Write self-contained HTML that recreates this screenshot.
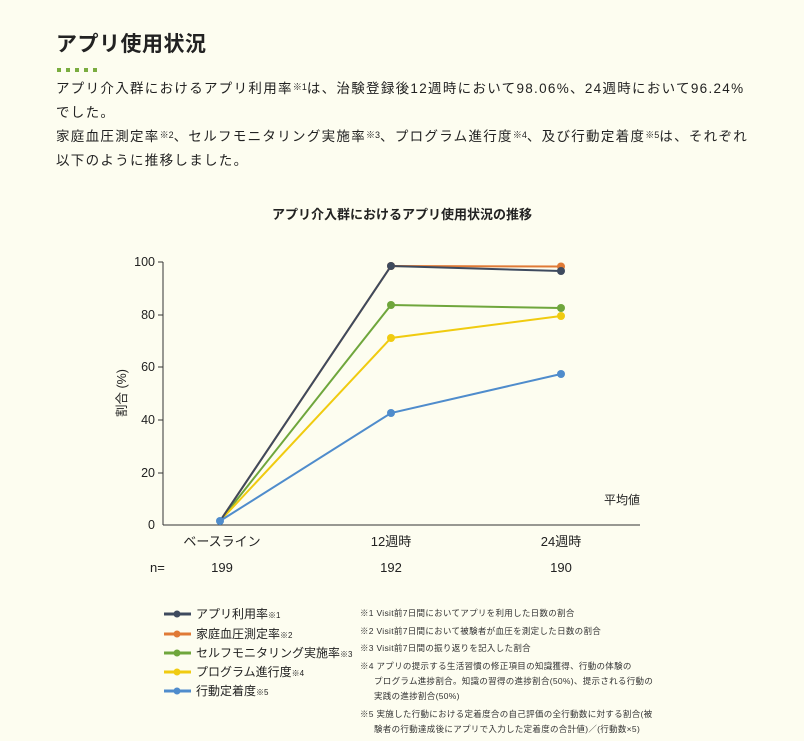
<!DOCTYPE html>
<html><head><meta charset="utf-8"><style>
body{margin:0;background:#fdfdf0;width:804px;height:741px;overflow:hidden;font-family:"Liberation Sans","Noto Sans CJK JP",sans-serif;color:#222}
.t{position:absolute;left:56px;top:28px;font-size:21px;font-weight:bold;letter-spacing:0.5px}
.dots{position:absolute;left:57px;top:59px}
.dots span{display:inline-block;width:4px;height:4px;background:#7aad3f;margin-right:5px}
.p{position:absolute;left:56px;top:76px;font-size:13.5px;line-height:23.5px;width:740px;letter-spacing:1.3px}
sup{font-size:9px;vertical-align:3px;letter-spacing:0}
</style></head><body>
<div class="t">アプリ使用状況</div>
<div class="dots"><span></span><span></span><span></span><span></span><span></span></div>
<div class="p">アプリ介入群におけるアプリ利用率<sup>※1</sup>は、治験登録後12週時において98.06%、24週時において96.24%<br>でした。<br>家庭血圧測定率<sup>※2</sup>、セルフモニタリング実施率<sup>※3</sup>、プログラム進行度<sup>※4</sup>、及び行動定着度<sup>※5</sup>は、それぞれ<br>以下のように推移しました。</div>
<svg width="804" height="741" style="position:absolute;left:0;top:0" font-family="Liberation Sans,Noto Sans CJK JP,sans-serif">
<text x="402" y="219" text-anchor="middle" font-size="13" font-weight="bold" fill="#222">アプリ介入群におけるアプリ使用状況の推移</text>
<line x1="163" y1="262" x2="163" y2="525" stroke="#333"/>
<line x1="163" y1="525" x2="640" y2="525" stroke="#333"/>
<g font-size="12.5" fill="#222" text-anchor="end">
<text x="155" y="266">100</text><text x="155" y="319">80</text><text x="155" y="371">60</text><text x="155" y="424">40</text><text x="155" y="477">20</text><text x="155" y="529">0</text>
</g>
<g stroke="#333"><line x1="158" y1="262" x2="163" y2="262"/><line x1="158" y1="315" x2="163" y2="315"/><line x1="158" y1="367" x2="163" y2="367"/><line x1="158" y1="420" x2="163" y2="420"/><line x1="158" y1="473" x2="163" y2="473"/></g>
<text transform="translate(126,393) rotate(-90)" text-anchor="middle" font-size="12.5" fill="#222">割合 (%)</text>
<text x="640" y="504" text-anchor="end" font-size="12" fill="#222">平均値</text>
<g font-size="13" fill="#222" text-anchor="middle">
<text x="222" y="546">ベースライン</text><text x="391" y="546">12週時</text><text x="561" y="546">24週時</text>
<text x="222" y="572">199</text><text x="391" y="572">192</text><text x="561" y="572">190</text></g>
<text x="150" y="572" font-size="13" fill="#222">n=</text>
<g stroke-width="2" fill="none">
<polyline points="220,521 391,266 561,266.5" stroke="#e07a36"/>
<polyline points="220,521 391,305 561,308" stroke="#6fa63c"/>
<polyline points="220,521 391,338 561,316" stroke="#f0cb10"/>
<polyline points="220,521 391,413 561,374" stroke="#4f8ccc"/>
<polyline points="220,521 391,266 561,271" stroke="#3e4a5e"/>
</g>
<g>
<circle cx="391" cy="266" r="4" fill="#e07a36"/><circle cx="561" cy="266.5" r="4" fill="#e07a36"/>
<circle cx="391" cy="305" r="4" fill="#6fa63c"/><circle cx="561" cy="308" r="4" fill="#6fa63c"/>
<circle cx="391" cy="338" r="4" fill="#f0cb10"/><circle cx="561" cy="316" r="4" fill="#f0cb10"/>
<circle cx="391" cy="413" r="4" fill="#4f8ccc"/><circle cx="561" cy="374" r="4" fill="#4f8ccc"/>
<circle cx="391" cy="266" r="4" fill="#3e4a5e"/><circle cx="561" cy="271" r="4" fill="#3e4a5e"/>
<circle cx="220" cy="521" r="4" fill="#4f8ccc"/>
</g>
<g font-size="12" fill="#222">
<line x1="164" y1="614" x2="191" y2="614" stroke="#3e4a5e" stroke-width="3"/><circle cx="177" cy="614" r="3.5" fill="#3e4a5e"/><text x="196" y="618">アプリ利用率<tspan font-size="8">※1</tspan></text>
<line x1="164" y1="634" x2="191" y2="634" stroke="#e07a36" stroke-width="3"/><circle cx="177" cy="634" r="3.5" fill="#e07a36"/><text x="196" y="638">家庭血圧測定率<tspan font-size="8">※2</tspan></text>
<line x1="164" y1="653" x2="191" y2="653" stroke="#6fa63c" stroke-width="3"/><circle cx="177" cy="653" r="3.5" fill="#6fa63c"/><text x="196" y="657">セルフモニタリング実施率<tspan font-size="8">※3</tspan></text>
<line x1="164" y1="672" x2="191" y2="672" stroke="#f0cb10" stroke-width="3"/><circle cx="177" cy="672" r="3.5" fill="#f0cb10"/><text x="196" y="676">プログラム進行度<tspan font-size="8">※4</tspan></text>
<line x1="164" y1="691" x2="191" y2="691" stroke="#4f8ccc" stroke-width="3"/><circle cx="177" cy="691" r="3.5" fill="#4f8ccc"/><text x="196" y="695">行動定着度<tspan font-size="8">※5</tspan></text>
</g>
<g font-size="8.5" fill="#333" letter-spacing="0.3">
<text x="360" y="616">※1 Visit前7日間においてアプリを利用した日数の割合</text>
<text x="360" y="634">※2 Visit前7日間において被験者が血圧を測定した日数の割合</text>
<text x="360" y="651">※3 Visit前7日間の振り返りを記入した割合</text>
<text x="360" y="669">※4 アプリの提示する生活習慣の修正項目の知識獲得、行動の体験の</text>
<text x="374" y="684">プログラム進捗割合。知識の習得の進捗割合(50%)、提示される行動の</text>
<text x="374" y="699">実践の進捗割合(50%)</text>
<text x="360" y="717">※5 実施した行動における定着度合の自己評価の全行動数に対する割合(被</text>
<text x="374" y="732">験者の行動達成後にアプリで入力した定着度の合計値)／(行動数×5)</text>
</g>
</svg>
</body></html>
